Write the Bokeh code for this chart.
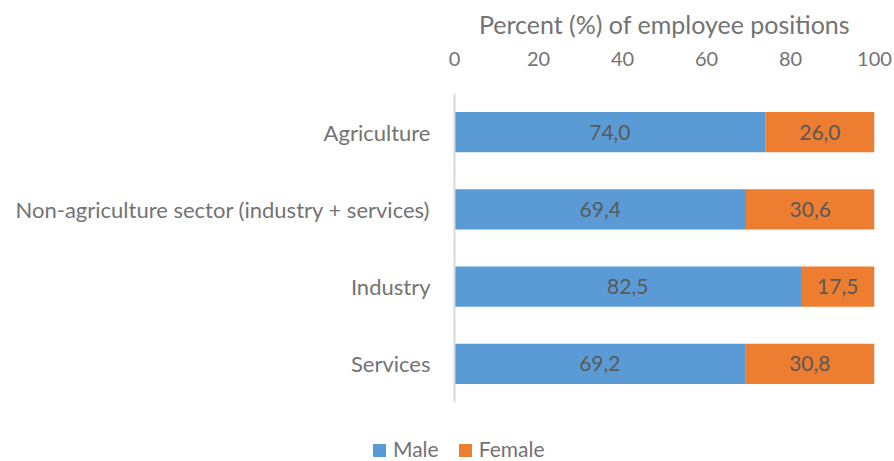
from bokeh.plotting import figure
from bokeh.layouts import column
from bokeh.models import ColumnDataSource, FactorRange, Range1d, FixedTicker, Div
from bokeh.core.properties import value
from bokeh.embed import file_html
from bokeh.resources import INLINE

sectors = ["Agriculture", "Non-agriculture sector (industry + services)", "Industry", "Services"]
male = [74.0, 69.4, 82.5, 69.2]
female = [26.0, 30.6, 17.5, 30.8]
x_ticks = [0, 20, 40, 60, 80, 100]
series = ["Male", "Female"]
colors = ["#5B9BD5", "#ED7D31"]

FONT = "Lato"
AX_COLOR = "#737373"
LBL_COLOR = "#595959"

src = ColumnDataSource(dict(sector=sectors, Male=male, Female=female))

p = figure(width=894, height=425,
           y_range=FactorRange(*reversed(sectors)),
           x_range=Range1d(0, 100),
           x_axis_location="above",
           output_backend="svg", toolbar_location=None,
           min_border_left=454, min_border_right=20,
           min_border_top=93, min_border_bottom=23)

rs = p.hbar_stack(series, y="sector", height=0.52, color=colors, source=src,
                  line_color=None)

# data labels
male_mid = [m / 2 for m in male]
fem_mid = [m + f / 2 for m, f in zip(male, female)]
lab_src = ColumnDataSource(dict(
    x=male_mid + fem_mid,
    y=sectors + sectors,
    t=[f"{v:.1f}".replace(".", ",") for v in male + female],
))
p.text(x="x", y="y", text="t", source=lab_src, text_align="center",
       text_baseline="middle", text_font=value(FONT), text_font_size="21px",
       text_color=LBL_COLOR)

# top x axis
xa = p.xaxis[0]
xa.ticker = FixedTicker(ticks=x_ticks)
xa.axis_label = "Percent (%) of employee positions"
xa.axis_label_text_font = FONT
xa.axis_label_text_font_size = "25px"
xa.axis_label_text_font_style = "normal"
xa.axis_label_text_color = AX_COLOR
xa.axis_label_standoff = 10
xa.major_label_text_font = FONT
xa.major_label_text_font_size = "20px"
xa.major_label_text_color = AX_COLOR
xa.major_label_standoff = 22
xa.axis_line_color = None
xa.major_tick_line_color = None
xa.minor_tick_line_color = None

ya = p.yaxis[0]
ya.major_label_text_font = FONT
ya.major_label_text_font_size = "22px"
ya.major_label_text_color = AX_COLOR
ya.major_label_standoff = 18
ya.axis_line_color = "#d9d9d9"
ya.axis_line_width = 2
ya.major_tick_line_color = None
ya.minor_tick_line_color = None

p.xgrid.grid_line_color = None
p.ygrid.grid_line_color = None
p.outline_line_color = None

# legend strip below the chart
parts = []
for i, (s, c) in enumerate(zip(series, colors)):
    ml = "20px" if i > 0 else "0px"
    parts.append(
        f'<span style="display:inline-block;width:13px;height:13px;background:{c};'
        f'margin-left:{ml};margin-right:7px"></span>{s}'
    )
legend_html = (
    f'<div style="font-family:{FONT};font-size:21px;color:{AX_COLOR};'
    f'padding-left:373px;padding-top:13px;line-height:22px;white-space:nowrap">'
    + "".join(parts) + "</div>"
)
lg = Div(text=legend_html, width=894, height=36, margin=0)

open("out.html", "w").write(file_html(column(p, lg, spacing=0), INLINE))
